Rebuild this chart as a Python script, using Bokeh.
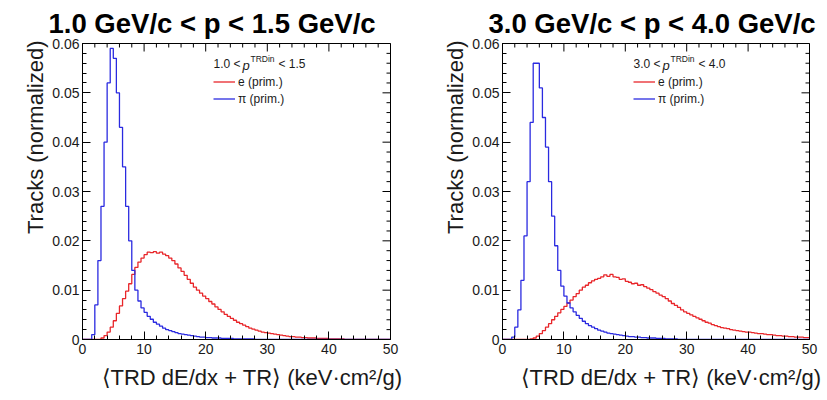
import math
from bokeh.plotting import figure
from bokeh.models import (Range1d, LinearAxis, SingleIntervalTicker, NumeralTickFormatter,
                          Label, Legend, LegendItem, Title)
from bokeh.layouts import row
from bokeh.embed import file_html
from bokeh.resources import INLINE

# ---------------- data (bin width 0.5, x from 0 to 50) ----------------
BIN_WIDTH = 0.5
X_MIN, X_MAX = 0.0, 50.0
Y_MIN, Y_MAX = 0.0, 0.06

titles = ["1.0 GeV/c < p < 1.5 GeV/c", "3.0 GeV/c < p < 4.0 GeV/c"]
p_ranges = [("1.0", "1.5"), ("3.0", "4.0")]
series_labels = ["e (prim.)", "\u03c0 (prim.)"]

# panel 1 : 1.0 < p < 1.5
e_low = [
    0, 0, 0, 0, 0, 0, 0.0003, 0.0008, 0.0015, 0.0025,
    0.0038, 0.0053, 0.0068, 0.0083, 0.0098, 0.0113, 0.0132, 0.0146, 0.0157, 0.0165,
    0.0172, 0.0177, 0.0176, 0.0178, 0.0175, 0.0177, 0.0173, 0.0170, 0.0165, 0.0160,
    0.0153, 0.0145, 0.0138, 0.0130, 0.0122, 0.0114, 0.0106, 0.0100, 0.0094, 0.0088,
    0.0083, 0.0077, 0.0072, 0.0066, 0.0061, 0.0056, 0.0051, 0.0047, 0.0043, 0.0039,
    0.0035, 0.0032, 0.0029, 0.0026, 0.0023, 0.0021, 0.0019, 0.0017, 0.0015, 0.0014,
    0.0013, 0.0012, 0.0011, 0.0010, 0.0009, 0.0008, 0.0007, 0.0006, 0.0006, 0.0005,
    0.0005, 0.0004, 0.0004, 0.0003, 0.0003, 0.0003, 0.0002, 0.0002, 0.0002, 0.0002,
    0.0001, 0.0001, 0.0001, 0.0001, 0.0001, 0, 0, 0, 0, 0,
    0, 0, 0, 0, 0, 0, 0, 0, 0, 0,
]
pi_low = [
    0, 0, 0, 0.001, 0.007, 0.016, 0.027, 0.040, 0.052, 0.059,
    0.057, 0.050, 0.043, 0.035, 0.027, 0.020, 0.014, 0.010, 0.0078, 0.0064,
    0.0055, 0.0047, 0.0041, 0.0035, 0.0031, 0.0027, 0.0023, 0.0020, 0.0018, 0.0016,
    0.0014, 0.0012, 0.0011, 0.0010, 0.0009, 0.0008, 0.0007, 0.0006, 0.0005, 0.0005,
    0.0004, 0.0004, 0.0003, 0.0003, 0.0003, 0.0002, 0.0002, 0.0002, 0.0002, 0.0001,
    0.0001, 0.0001, 0.0001, 0.0001, 0.0001, 0.0001, 0, 0, 0, 0,
    0, 0, 0, 0, 0, 0, 0, 0, 0, 0,
    0, 0, 0, 0, 0, 0, 0, 0, 0, 0,
    0, 0, 0, 0, 0, 0, 0, 0, 0, 0,
    0, 0, 0, 0, 0, 0, 0, 0, 0, 0,
]

# panel 2 : 3.0 < p < 4.0
e_high = [
    0, 0, 0, 0, 0, 0, 0, 0, 0, 0.0001,
    0.0003, 0.0007, 0.0012, 0.0018, 0.0025, 0.0032, 0.0040, 0.0047, 0.0054, 0.0061,
    0.0067, 0.0074, 0.0080, 0.0087, 0.0093, 0.0100, 0.0106, 0.0110, 0.0115, 0.0119,
    0.0122, 0.0124, 0.0127, 0.0131, 0.0128, 0.0132, 0.0127, 0.0126, 0.0122, 0.0123,
    0.0118, 0.0116, 0.0113, 0.0114, 0.0110, 0.0111, 0.0107, 0.0104, 0.0101, 0.0097,
    0.0094, 0.0090, 0.0087, 0.0083, 0.0078, 0.0073, 0.0069, 0.0065, 0.0060, 0.0056,
    0.0053, 0.0050, 0.0047, 0.0044, 0.0041, 0.0038, 0.0035, 0.0033, 0.0030, 0.0028,
    0.0026, 0.0024, 0.0023, 0.0022, 0.0020, 0.0019, 0.0018, 0.0017, 0.0016, 0.0015,
    0.0015, 0.0014, 0.0013, 0.0012, 0.0012, 0.0011, 0.0010, 0.0010, 0.0009, 0.0008,
    0.0008, 0.0007, 0.0007, 0.0006, 0.0006, 0.0005, 0.0005, 0.0005, 0.0004, 0.0004,
]
pi_high = [
    0, 0, 0, 0.0005, 0.0025, 0.006, 0.012, 0.021, 0.032, 0.044,
    0.056, 0.056, 0.051, 0.045, 0.039, 0.032, 0.025, 0.019, 0.014, 0.0108,
    0.0088, 0.0074, 0.0064, 0.0056, 0.0049, 0.0043, 0.0037, 0.0032, 0.0028, 0.0025,
    0.0022, 0.0019, 0.0017, 0.0015, 0.0013, 0.0012, 0.0011, 0.0010, 0.0009, 0.0008,
    0.0007, 0.0006, 0.0006, 0.0005, 0.0005, 0.0004, 0.0004, 0.0003, 0.0003, 0.0003,
    0.0002, 0.0002, 0.0002, 0.0001, 0.0001, 0.0001, 0.0001, 0, 0, 0,
    0, 0, 0, 0, 0, 0, 0, 0, 0, 0,
    0, 0, 0, 0, 0, 0, 0, 0, 0, 0,
    0, 0, 0, 0, 0, 0, 0, 0, 0, 0,
    0, 0, 0, 0, 0, 0, 0, 0, 0, 0,
]

X_TICK_INTERVAL = 10
Y_TICK_INTERVAL = 0.01
N_MINOR = 5
X_LABEL = "\u27e8TRD dE/dx + TR\u27e9 (keV\u00b7cm\u00b2/g)"
Y_LABEL = "Tracks (normalized)"

# ---------------- styling ----------------
FONT = "Liberation Sans"
RED = "#e8262a"
BLUE = "#2a2ae0"
TXT = "#1a1a1a"


def style_axis(ax, ticker):
    ax.ticker = ticker
    ax.axis_line_color = "black"
    ax.axis_line_width = 1
    ax.major_tick_in = 8
    ax.major_tick_out = 0
    ax.minor_tick_in = 4
    ax.minor_tick_out = 0
    ax.major_tick_line_color = "black"
    ax.minor_tick_line_color = "black"
    ax.major_label_text_font = FONT
    ax.major_label_text_font_size = "14px"
    ax.major_label_text_color = TXT


def mirror_ticks(p):
    """ROOT-style ticks on the top and right frame edges (drawn inside the frame)."""
    nx = int(round((X_MAX - X_MIN) / X_TICK_INTERVAL * N_MINOR))
    ny = int(round((Y_MAX - Y_MIN) / Y_TICK_INTERVAL * N_MINOR))
    xs = [X_MIN + i * X_TICK_INTERVAL / N_MINOR for i in range(nx + 1)]
    ys = [Y_MIN + i * Y_TICK_INTERVAL / N_MINOR for i in range(ny + 1)]
    x_major = [x for i, x in enumerate(xs) if i % N_MINOR == 0]
    x_minor = [x for i, x in enumerate(xs) if i % N_MINOR != 0]
    y_major = [y for i, y in enumerate(ys) if i % N_MINOR == 0]
    y_minor = [y for i, y in enumerate(ys) if i % N_MINOR != 0]
    for xv, sz in ((x_major, 16), (x_minor, 8)):
        p.scatter(x=xv, y=[Y_MAX] * len(xv), marker="dash", angle=math.pi / 2,
                  size=sz, line_color="black", line_width=1)
    for yv, sz in ((y_major, 16), (y_minor, 8)):
        p.scatter(x=[X_MAX] * len(yv), y=yv, marker="dash",
                  size=sz, line_color="black", line_width=1)


def make_panel(title, prange, e_vals, pi_vals, width, bl, br, title_offset):
    p = figure(width=width, height=400, output_backend="svg", toolbar_location=None,
               x_range=Range1d(X_MIN, X_MAX), y_range=Range1d(Y_MIN, Y_MAX),
               min_border_left=bl, min_border_right=br,
               min_border_top=43, min_border_bottom=61,
               x_axis_type=None, y_axis_type=None)
    p.grid.visible = False
    p.outline_line_color = "black"
    p.background_fill_color = "white"
    p.border_fill_color = "white"

    xb = LinearAxis()
    style_axis(xb, SingleIntervalTicker(interval=X_TICK_INTERVAL, num_minor_ticks=N_MINOR))
    xb.major_label_standoff = 4
    p.add_layout(xb, "below")
    yl = LinearAxis(formatter=NumeralTickFormatter(format="0.[00]"))
    style_axis(yl, SingleIntervalTicker(interval=Y_TICK_INTERVAL, num_minor_ticks=N_MINOR))
    yl.major_label_standoff = 3
    p.add_layout(yl, "left")
    mirror_ticks(p)

    p.title.text = title
    p.title.text_font = FONT
    p.title.text_font_size = "27.5px"
    p.title.text_font_style = "bold"
    p.title.text_color = "black"
    p.title.align = "left"
    p.title.offset = title_offset

    # axis titles, ROOT style (aligned to the axis end)
    p.add_layout(Title(text=X_LABEL, align="right", offset=-12, text_font=FONT,
                       text_font_size="22px", text_font_style="normal",
                       text_color=TXT, standoff=12), "below")
    p.add_layout(Title(text=Y_LABEL, align="right", offset=-3, text_font=FONT,
                       text_font_size="22px", text_font_style="normal",
                       text_color=TXT, standoff=4), "left")

    n = len(e_vals)
    edges = [X_MIN + i * BIN_WIDTH for i in range(n + 1)]
    r_e = p.step(x=edges, y=list(e_vals) + [e_vals[-1]], mode="after",
                 line_color=RED, line_width=1.3)
    r_pi = p.step(x=edges, y=list(pi_vals) + [pi_vals[-1]], mode="after",
                  line_color=BLUE, line_width=1.3)

    legend = Legend(items=[LegendItem(label=series_labels[0], renderers=[r_e]),
                           LegendItem(label=series_labels[1], renderers=[r_pi])],
                    location=(131, 232), margin=0, padding=0, spacing=0,
                    glyph_width=22, glyph_height=17, label_height=17,
                    label_standoff=3, border_line_alpha=0, background_fill_alpha=0,
                    label_text_font=FONT, label_text_font_size="12px",
                    label_text_color=TXT)
    p.add_layout(legend)

    lo, hi = prange
    hy = 276
    common = dict(x_units="screen", y_units="screen", text_font=FONT,
                  text_color=TXT, text_baseline="middle")
    p.add_layout(Label(x=131, y=hy, text=f"{lo} <", text_font_size="12px", **common))
    p.add_layout(Label(x=160, y=hy - 2, text="p", text_font_size="13px",
                       text_font_style="italic", **common))
    p.add_layout(Label(x=168, y=hy + 5, text="TRDin", text_font_size="8.5px", **common))
    p.add_layout(Label(x=196, y=hy, text=f"< {hi}", text_font_size="12px", **common))
    return p


p1 = make_panel(titles[0], p_ranges[0], e_low, pi_low, 413, 82, 23, -34)
p2 = make_panel(titles[1], p_ranges[1], e_high, pi_high, 414, 89, 18, -14)

layout = row(p1, p2)
open("out.html", "w").write(file_html(layout, INLINE))
